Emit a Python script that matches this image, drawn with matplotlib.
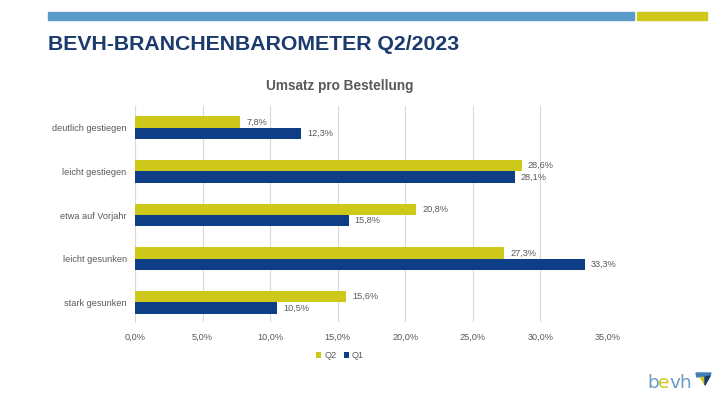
import matplotlib.pyplot as plt
import matplotlib.patches as mpatches
import numpy as np

plt.rcParams['font.family'] = ['Liberation Sans', 'DejaVu Sans']

categories = ['deutlich gestiegen', 'leicht gestiegen', 'etwa auf Vorjahr',
              'leicht gesunken', 'stark gesunken']
q2 = [7.8, 28.6, 20.8, 27.3, 15.6]
q1 = [12.3, 28.1, 15.8, 33.3, 10.5]
xticks = [0, 5, 10, 15, 20, 25, 30, 35]

yellow = '#cdc819'
navy = '#0e3f86'
grey_txt = '#595959'

fig = plt.figure(figsize=(7.2, 4.05), dpi=100)

# header stripes
fig.patches.append(mpatches.Rectangle((48/720, 1-20/405), (634-48)/720, 8/405,
                                      transform=fig.transFigure, color='#5b9bc8'))
fig.patches.append(mpatches.Rectangle((637/720, 1-20/405), (707-637)/720, 8/405,
                                      transform=fig.transFigure, color='#cfc81a'))
fig.text(48/720, 1-45/405, 'BEVH-BRANCHENBAROMETER Q2/2023', fontsize=15.3,
         fontweight='bold', color='#1b3a6d', va='center', ha='left')
fig.text(340/720, 1-86/405, 'Umsatz pro Bestellung', fontsize=9.8,
         fontweight='bold', color=grey_txt, va='center', ha='center')

ax = fig.add_axes([135/720, 1-322/405, (608-135)/720, (322-106)/405])
y = np.arange(len(categories))
h = 0.26
b2 = ax.barh(y - h/2, q2, height=h, color=yellow, label='Q2', zorder=3)
b1 = ax.barh(y + h/2, q1, height=h, color=navy, label='Q1', zorder=3)
for bars, vals in ((b2, q2), (b1, q1)):
    for bar, v in zip(bars, vals):
        ax.text(v + 0.45, bar.get_y() + bar.get_height()/2,
                f'{v:.1f}%'.replace('.', ','), va='center', ha='left',
                fontsize=6.6, color=grey_txt)

ax.set_xlim(0, 35)
ax.set_ylim(4.45, -0.5)
ax.set_yticks(y)
ax.set_yticklabels(categories, fontsize=6.6, color=grey_txt)
ax.set_xticks(xticks)
ax.set_xticklabels([f'{t:.1f}%'.replace('.', ',') for t in xticks],
                   fontsize=6.6, color=grey_txt)
ax.tick_params(length=0, pad=8)
ax.tick_params(axis='y', pad=6)
ax.grid(axis='x', color='#d9d9d9', linewidth=0.8, zorder=0)
for s in ['top', 'right', 'bottom']:
    ax.spines[s].set_visible(False)
ax.spines['left'].set_color('#d9d9d9')

leg = fig.legend(handles=[b2, b1], labels=['Q2', 'Q1'], loc='center',
                 bbox_to_anchor=(340/720, 1-356/405), ncol=2, frameon=False,
                 fontsize=6.6, handlelength=0.6, handleheight=0.6,
                 handletextpad=0.3, columnspacing=0.8)
for t in leg.get_texts():
    t.set_color(grey_txt)

# logo: "bevh" with a yellow e
r = fig.canvas.get_renderer()
xpos = 647
for part, col in (('b', '#6a9bc3'), ('e', '#cfc81a'), ('vh', '#6a9bc3')):
    t = fig.text(xpos/720, 1-383/405, part, fontsize=13.3, color=col,
                 va='center', ha='left', family='DejaVu Sans')
    xpos = t.get_window_extent(r).x1 - 0.5
fig.patches.append(mpatches.Polygon([(696/720, 1-373/405), (711/720, 1-373/405),
                                     (710/720, 1-376/405), (697/720, 1-377/405)],
                                    closed=True, transform=fig.transFigure, color='#3d7fb6'))
fig.patches.append(mpatches.Polygon([(700/720, 1-377/405), (705/720, 1-377/405),
                                     (705/720, 1-385/405)], closed=True,
                                    transform=fig.transFigure, color='#cfc81a'))
fig.patches.append(mpatches.Polygon([(705/720, 1-377/405), (710/720, 1-376/405),
                                     (705/720, 1-385/405)], closed=True,
                                    transform=fig.transFigure, color='#1b3a6d'))

fig.savefig('out.png', dpi=100)
